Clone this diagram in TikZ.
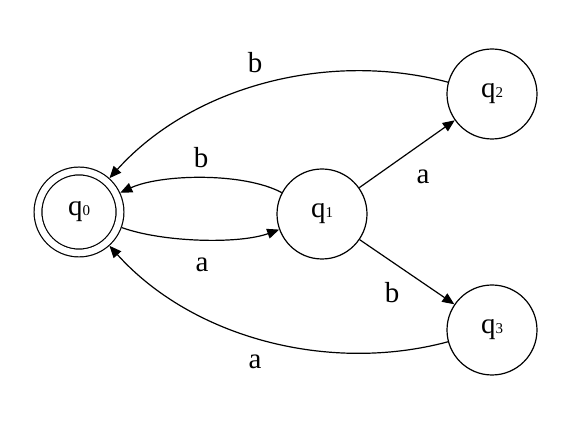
\documentclass[tikz,border=0pt]{standalone}
\usepackage{fontspec}
\setmainfont{Liberation Serif}
\usetikzlibrary{arrows.meta}
\newcommand\qsub[1]{{\fontsize{15pt}{15pt}\selectfont #1}}
\begin{document}
\begin{tikzpicture}[x=1pt,y=1pt,
  state/.style={circle,draw,line width=1.2pt,minimum size=90pt,inner sep=0pt,font=\fontsize{29pt}{29pt}\selectfont},
  accepting/.style={double,double distance=6.6pt,minimum size=82pt,outer sep=4.5pt},
  lbl/.style={inner sep=0pt,font=\fontsize{29pt}{29pt}\selectfont},
  tr/.style={-{Triangle[length=12pt,width=10pt]},line width=1.2pt}]
\useasboundingbox (0,0) rectangle (584,430);
\node[state,accepting] (q0) at (79,218) {q\qsub{0}};
\node[state] (q1) at (322,216) {q\qsub{1}};
\node[state] (q2) at (492,336) {q\qsub{2}};
\node[state] (q3) at (492,100) {q\qsub{3}};
\draw[tr] (q1) to[out=152,in=25,looseness=0.7] (q0);
\draw[tr] (q0) to[out=-20,in=200,looseness=0.7] (q1);
\draw[tr] (q2) to[out=165,in=48,looseness=0.9] (q0);
\draw[tr] (q3) to[out=195,in=-48,looseness=0.9] (q0);
\draw[tr] (q1) -- (q2);
\draw[tr] (q1) -- (q3);
\node[lbl] (l1) at (255,367) {b};
\node[lbl] (l2) at (201,272) {b};
\node[lbl] (l3) at (202,165) {a};
\node[lbl] (l4) at (255,68) {a};
\node[lbl] (l5) at (423,253) {a};
\node[lbl] (l6) at (392,137) {b};
\end{tikzpicture}
\end{document}
